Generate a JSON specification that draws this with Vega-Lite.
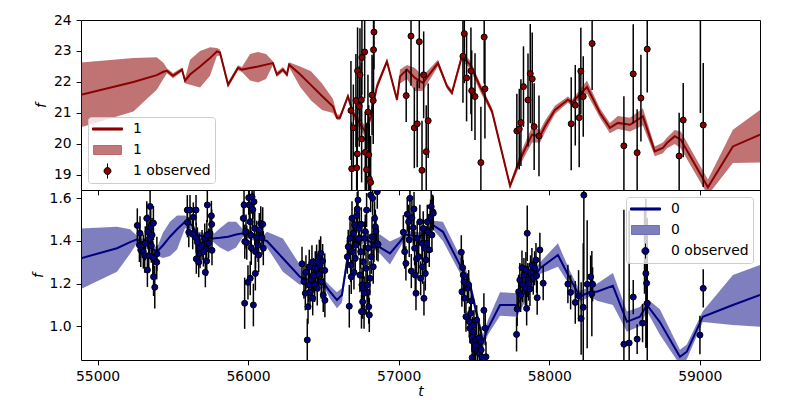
{
"$schema": "https://vega.github.io/schema/vega-lite/v6.json",
"background": "white",
"padding": {"left": 30, "top": 12, "right": 30, "bottom": 20},
"bounds": "flush",
"spacing": 0,
"datasets": {
"model1": [
{"t":54890,"m":21.59,"lo":20.54,"hi":22.63},{"t":55238,"m":22.0,"lo":21.05,"hi":22.77},{"t":55393,"m":22.22,"lo":21.75,"hi":22.8},{"t":55437,"m":22.33,"lo":22.1,"hi":22.62},{"t":55461,"m":22.36,"lo":22.28,"hi":22.44},{"t":55501,"m":22.2,"lo":22.12,"hi":22.28},{"t":55561,"m":22.4,"lo":22.33,"hi":22.47},{"t":55581,"m":22.04,"lo":21.96,"hi":22.12},{"t":55614,"m":22.24,"lo":21.91,"hi":22.72},{"t":55681,"m":22.5,"lo":21.82,"hi":23.0},{"t":55747,"m":22.77,"lo":22.2,"hi":23.12},{"t":55793,"m":22.99,"lo":22.85,"hi":23.1},{"t":55813,"m":22.95,"lo":22.85,"hi":23.05},{"t":55867,"m":21.91,"lo":21.82,"hi":22.0},{"t":55933,"m":22.46,"lo":22.38,"hi":22.54},{"t":55959,"m":22.4,"lo":22.32,"hi":22.48},{"t":56013,"m":22.45,"lo":22.05,"hi":22.9},{"t":56066,"m":22.5,"lo":21.98,"hi":22.97},{"t":56119,"m":22.56,"lo":22.1,"hi":22.9},{"t":56165,"m":22.61,"lo":22.55,"hi":22.67},{"t":56191,"m":22.24,"lo":22.16,"hi":22.32},{"t":56231,"m":22.4,"lo":22.32,"hi":22.48},{"t":56258,"m":22.24,"lo":22.16,"hi":22.32},{"t":56272,"m":22.56,"lo":22.48,"hi":22.64},{"t":56345,"m":22.25,"lo":21.85,"hi":22.5},{"t":56418,"m":21.9,"lo":21.4,"hi":22.35},{"t":56491,"m":21.55,"lo":21.1,"hi":21.95},{"t":56564,"m":21.21,"lo":21.0,"hi":21.45},{"t":56590,"m":20.85,"lo":20.78,"hi":20.95},{"t":56610,"m":20.85,"lo":20.77,"hi":20.95},{"t":56663,"m":21.54,"lo":21.45,"hi":21.62},{"t":56697,"m":21.0,"lo":20.85,"hi":21.1},{"t":56776,"m":20.41,"lo":20.25,"hi":20.6},{"t":56809,"m":20.78,"lo":20.62,"hi":20.92},{"t":56856,"m":21.86,"lo":21.75,"hi":21.98},{"t":56922,"m":22.66,"lo":22.58,"hi":22.74},{"t":56989,"m":21.43,"lo":21.35,"hi":21.52},{"t":57009,"m":22.18,"lo":21.95,"hi":22.4},{"t":57055,"m":22.4,"lo":22.1,"hi":22.55},{"t":57108,"m":22.13,"lo":21.7,"hi":22.45},{"t":57161,"m":21.97,"lo":21.72,"hi":22.2},{"t":57261,"m":22.61,"lo":22.5,"hi":22.72},{"t":57321,"m":21.86,"lo":21.78,"hi":21.95},{"t":57354,"m":21.65,"lo":21.56,"hi":21.74},{"t":57420,"m":22.83,"lo":22.72,"hi":22.95},{"t":57474,"m":22.56,"lo":22.42,"hi":22.7},{"t":57540,"m":21.86,"lo":21.7,"hi":21.98},{"t":57620,"m":21.05,"lo":20.95,"hi":21.15},{"t":57740,"m":18.65,"lo":18.56,"hi":18.74},{"t":57806,"m":19.5,"lo":19.32,"hi":19.68},{"t":57886,"m":20.3,"lo":20.05,"hi":20.55},{"t":57939,"m":20.25,"lo":20.05,"hi":20.45},{"t":57972,"m":20.57,"lo":20.38,"hi":20.75},{"t":58038,"m":21.1,"lo":20.97,"hi":21.23},{"t":58124,"m":21.43,"lo":21.33,"hi":21.53},{"t":58151,"m":21.33,"lo":21.23,"hi":21.43},{"t":58251,"m":21.84,"lo":21.62,"hi":22.05},{"t":58337,"m":21.0,"lo":20.85,"hi":21.15},{"t":58403,"m":20.52,"lo":20.35,"hi":20.68},{"t":58456,"m":20.68,"lo":20.48,"hi":20.9},{"t":58536,"m":20.62,"lo":20.4,"hi":20.85},{"t":58622,"m":20.89,"lo":20.6,"hi":21.15},{"t":58701,"m":19.76,"lo":19.6,"hi":19.92},{"t":58755,"m":19.87,"lo":19.7,"hi":20.05},{"t":58781,"m":20.03,"lo":19.85,"hi":20.2},{"t":58834,"m":20.25,"lo":20.0,"hi":20.45},{"t":58874,"m":20.14,"lo":19.85,"hi":20.4},{"t":59054,"m":18.6,"lo":18.35,"hi":18.85},{"t":59220,"m":19.92,"lo":19.39,"hi":20.46},{"t":59400,"m":20.3,"lo":19.4,"hi":21.1}
],
"obs1": [
{"t":56683,"f":21.08,"e":1.6},{"t":56688,"f":19.2,"e":1.5},{"t":56699,"f":20.52,"e":1.4},{"t":56721,"f":19.23,"e":1.6},{"t":56725,"f":19.68,"e":1.5},{"t":56727,"f":22.36,"e":1.4},{"t":56716,"f":21.4,"e":1.5},{"t":56738,"f":21.21,"e":1.3},{"t":56743,"f":22.23,"e":1.5},{"t":56752,"f":21.42,"e":1.2},{"t":56754,"f":20.16,"e":1.4},{"t":56756,"f":22.79,"e":1.2},{"t":56774,"f":22.97,"e":1.5},{"t":56778,"f":19.73,"e":1.3},{"t":56787,"f":19.17,"e":1.5},{"t":56796,"f":21.03,"e":1.2},{"t":56801,"f":19.65,"e":1.6},{"t":56805,"f":18.87,"e":1.8},{"t":56814,"f":18.76,"e":1.5},{"t":56823,"f":21.58,"e":1.3},{"t":56831,"f":21.4,"e":1.4},{"t":56833,"f":23.04,"e":1.5},{"t":56836,"f":23.61,"e":1.2},{"t":57050,"f":21.56,"e":0.85},{"t":57082,"f":23.48,"e":1.6},{"t":57104,"f":20.52,"e":1.3},{"t":57123,"f":20.65,"e":1.4},{"t":57137,"f":23.3,"e":1.5},{"t":57155,"f":19.15,"e":1.6},{"t":57166,"f":22.23,"e":1.4},{"t":57183,"f":19.75,"e":1.5},{"t":57196,"f":20.75,"e":1.2},{"t":57427,"f":22.83,"e":1.5},{"t":57436,"f":23.56,"e":1.6},{"t":57451,"f":22.13,"e":1.4},{"t":57480,"f":22.36,"e":1.4},{"t":57485,"f":21.72,"e":1.3},{"t":57507,"f":21.53,"e":1.4},{"t":57568,"f":23.45,"e":1.5},{"t":57573,"f":21.78,"e":1.6},{"t":57546,"f":19.4,"e":1.8},{"t":57785,"f":20.42,"e":1.2},{"t":57801,"f":20.48,"e":1.3},{"t":57812,"f":20.69,"e":1.4},{"t":57829,"f":21.85,"e":1.3},{"t":57859,"f":21.42,"e":1.5},{"t":57874,"f":22.27,"e":1.6},{"t":57887,"f":22.1,"e":1.5},{"t":57900,"f":20.56,"e":1.4},{"t":57932,"f":20.26,"e":1.3},{"t":58146,"f":20.65,"e":1.5},{"t":58173,"f":21.25,"e":1.3},{"t":58199,"f":20.85,"e":1.6},{"t":58210,"f":22.35,"e":1.4},{"t":58226,"f":21.53,"e":1.3},{"t":58285,"f":23.24,"e":1.5},{"t":58496,"f":19.94,"e":1.6},{"t":58558,"f":22.26,"e":1.6},{"t":58584,"f":19.72,"e":1.4},{"t":58609,"f":21.48,"e":1.4},{"t":58651,"f":23.06,"e":1.4},{"t":58863,"f":19.61,"e":1.4},{"t":58890,"f":20.77,"e":1.2},{"t":59023,"f":20.61,"e":2.0},{"t":59004,"f":25.0,"e":4.0}
],
"model0": [
{"t":54890,"m":1.319,"lo":1.175,"hi":1.459},{"t":55129,"m":1.366,"lo":1.256,"hi":1.467},{"t":55216,"m":1.395,"lo":1.34,"hi":1.455},{"t":55262,"m":1.408,"lo":1.39,"hi":1.425},{"t":55395,"m":1.35,"lo":1.33,"hi":1.37},{"t":55435,"m":1.38,"lo":1.32,"hi":1.44},{"t":55481,"m":1.42,"lo":1.33,"hi":1.49},{"t":55528,"m":1.455,"lo":1.36,"hi":1.52},{"t":55581,"m":1.49,"lo":1.46,"hi":1.52},{"t":55627,"m":1.475,"lo":1.455,"hi":1.495},{"t":55661,"m":1.428,"lo":1.41,"hi":1.445},{"t":55767,"m":1.412,"lo":1.395,"hi":1.43},{"t":55813,"m":1.415,"lo":1.37,"hi":1.46},{"t":55867,"m":1.42,"lo":1.35,"hi":1.49},{"t":55920,"m":1.43,"lo":1.37,"hi":1.49},{"t":55966,"m":1.436,"lo":1.42,"hi":1.455},{"t":56099,"m":1.405,"lo":1.385,"hi":1.425},{"t":56125,"m":1.4,"lo":1.37,"hi":1.443},{"t":56231,"m":1.319,"lo":1.256,"hi":1.412},{"t":56345,"m":1.232,"lo":1.194,"hi":1.287},{"t":56365,"m":1.225,"lo":1.205,"hi":1.245},{"t":56511,"m":1.194,"lo":1.175,"hi":1.215},{"t":56544,"m":1.162,"lo":1.13,"hi":1.19},{"t":56590,"m":1.123,"lo":1.085,"hi":1.16},{"t":56623,"m":1.147,"lo":1.11,"hi":1.18},{"t":56663,"m":1.334,"lo":1.31,"hi":1.36},{"t":56697,"m":1.389,"lo":1.37,"hi":1.41},{"t":56776,"m":1.41,"lo":1.39,"hi":1.43},{"t":56876,"m":1.37,"lo":1.34,"hi":1.43},{"t":56942,"m":1.342,"lo":1.29,"hi":1.397},{"t":57009,"m":1.397,"lo":1.37,"hi":1.42},{"t":57042,"m":1.43,"lo":1.41,"hi":1.45},{"t":57141,"m":1.42,"lo":1.4,"hi":1.44},{"t":57227,"m":1.475,"lo":1.455,"hi":1.495},{"t":57294,"m":1.443,"lo":1.4,"hi":1.49},{"t":57407,"m":1.287,"lo":1.25,"hi":1.33},{"t":57474,"m":1.194,"lo":1.17,"hi":1.22},{"t":57560,"m":0.928,"lo":0.9,"hi":0.96},{"t":57593,"m":0.99,"lo":0.96,"hi":1.03},{"t":57673,"m":1.1,"lo":1.05,"hi":1.16},{"t":57786,"m":1.1,"lo":1.045,"hi":1.155},{"t":57939,"m":1.272,"lo":1.245,"hi":1.3},{"t":58058,"m":1.334,"lo":1.279,"hi":1.389},{"t":58137,"m":1.225,"lo":1.19,"hi":1.26},{"t":58204,"m":1.139,"lo":1.115,"hi":1.165},{"t":58270,"m":1.162,"lo":1.14,"hi":1.185},{"t":58317,"m":1.162,"lo":1.12,"hi":1.2},{"t":58423,"m":1.19,"lo":1.1,"hi":1.25},{"t":58516,"m":1.021,"lo":0.975,"hi":1.069},{"t":58602,"m":1.045,"lo":1.0,"hi":1.09},{"t":58649,"m":1.1,"lo":1.07,"hi":1.13},{"t":58735,"m":1.02,"lo":0.96,"hi":1.08},{"t":58868,"m":0.857,"lo":0.82,"hi":0.89},{"t":58914,"m":0.881,"lo":0.845,"hi":0.915},{"t":59020,"m":1.045,"lo":1.02,"hi":1.07},{"t":59220,"m":1.1,"lo":1.006,"hi":1.24},{"t":59400,"m":1.147,"lo":0.998,"hi":1.287}
],
"obs0": [
{"t":55264,"f":1.473,"e":0.08},{"t":55282,"f":1.436,"e":0.08},{"t":55278,"f":1.381,"e":0.08},{"t":55287,"f":1.358,"e":0.08},{"t":55304,"f":1.35,"e":0.08},{"t":55313,"f":1.331,"e":0.08},{"t":55327,"f":1.506,"e":0.08},{"t":55331,"f":1.264,"e":0.08},{"t":55335,"f":1.444,"e":0.08},{"t":55344,"f":1.412,"e":0.08},{"t":55349,"f":1.562,"e":0.08},{"t":55353,"f":1.467,"e":0.08},{"t":55357,"f":1.378,"e":0.08},{"t":55362,"f":1.428,"e":0.08},{"t":55367,"f":1.322,"e":0.08},{"t":55371,"f":1.484,"e":0.08},{"t":55372,"f":1.232,"e":0.09},{"t":55380,"f":1.183,"e":0.1},{"t":55393,"f":1.3,"e":0.08},{"t":55394,"f":1.34,"e":0.08},{"t":55340,"f":1.331,"e":0.08},{"t":55317,"f":1.389,"e":0.08},
{"t":55596,"f":1.545,"e":0.07},{"t":55614,"f":1.545,"e":0.07},{"t":55636,"f":1.511,"e":0.07},{"t":55654,"f":1.545,"e":0.07},{"t":55597,"f":1.487,"e":0.07},{"t":55606,"f":1.441,"e":0.07},{"t":55632,"f":1.431,"e":0.07},{"t":55655,"f":1.415,"e":0.07},{"t":55663,"f":1.394,"e":0.07},{"t":55676,"f":1.366,"e":0.07},{"t":55656,"f":1.316,"e":0.07},{"t":55672,"f":1.3,"e":0.07},{"t":55681,"f":1.342,"e":0.07},{"t":55694,"f":1.381,"e":0.07},{"t":55712,"f":1.412,"e":0.07},{"t":55716,"f":1.253,"e":0.07},{"t":55720,"f":1.362,"e":0.07},{"t":55725,"f":1.306,"e":0.07},{"t":55729,"f":1.569,"e":0.08},{"t":55738,"f":1.389,"e":0.07},{"t":55747,"f":1.436,"e":0.07},{"t":55756,"f":1.518,"e":0.07},{"t":55758,"f":1.478,"e":0.07},{"t":55760,"f":1.356,"e":0.07},{"t":55726,"f":1.428,"e":0.07},{"t":55703,"f":1.35,"e":0.07},
{"t":55968,"f":1.506,"e":0.08},{"t":55973,"f":1.569,"e":0.08},{"t":55977,"f":1.108,"e":0.12},{"t":55986,"f":1.444,"e":0.08},{"t":55991,"f":1.392,"e":0.08},{"t":56004,"f":1.603,"e":0.08},{"t":55999,"f":1.206,"e":0.08},{"t":56008,"f":1.569,"e":0.08},{"t":56013,"f":1.49,"e":0.08},{"t":56017,"f":1.428,"e":0.08},{"t":56021,"f":1.368,"e":0.08},{"t":56014,"f":1.225,"e":0.08},{"t":56026,"f":1.607,"e":0.08},{"t":56031,"f":1.547,"e":0.08},{"t":56035,"f":1.1,"e":0.1},{"t":56039,"f":1.584,"e":0.08},{"t":56044,"f":1.459,"e":0.08},{"t":56048,"f":1.248,"e":0.08},{"t":56049,"f":1.35,"e":0.08},{"t":56057,"f":1.415,"e":0.08},{"t":56066,"f":1.381,"e":0.08},{"t":56070,"f":1.334,"e":0.08},{"t":56074,"f":1.451,"e":0.08},{"t":56084,"f":1.483,"e":0.08},{"t":56092,"f":1.415,"e":0.08},{"t":56097,"f":1.478,"e":0.08},{"t":56101,"f":1.366,"e":0.08},{"t":55978,"f":1.397,"e":0.08},
{"t":56358,"f":1.293,"e":0.08},{"t":56371,"f":1.209,"e":0.08},{"t":56380,"f":1.155,"e":0.08},{"t":56384,"f":1.253,"e":0.08},{"t":56393,"f":0.936,"e":0.1},{"t":56398,"f":1.092,"e":0.08},{"t":56402,"f":1.194,"e":0.08},{"t":56406,"f":1.279,"e":0.08},{"t":56411,"f":1.159,"e":0.08},{"t":56420,"f":1.217,"e":0.08},{"t":56424,"f":1.3,"e":0.08},{"t":56429,"f":1.131,"e":0.08},{"t":56433,"f":1.24,"e":0.08},{"t":56442,"f":1.194,"e":0.08},{"t":56446,"f":1.272,"e":0.08},{"t":56455,"f":1.303,"e":0.08},{"t":56459,"f":1.178,"e":0.08},{"t":56469,"f":1.244,"e":0.08},{"t":56473,"f":1.326,"e":0.08},{"t":56477,"f":1.287,"e":0.08},{"t":56482,"f":1.342,"e":0.08},{"t":56486,"f":1.209,"e":0.08},{"t":56495,"f":1.306,"e":0.08},{"t":56499,"f":1.147,"e":0.08},{"t":56509,"f":1.262,"e":0.08},{"t":56510,"f":1.122,"e":0.08},
{"t":56659,"f":1.326,"e":0.08},{"t":56665,"f":1.373,"e":0.08},{"t":56672,"f":1.094,"e":0.1},{"t":56677,"f":1.412,"e":0.08},{"t":56681,"f":1.287,"e":0.08},{"t":56685,"f":1.232,"e":0.08},{"t":56690,"f":1.506,"e":0.08},{"t":56694,"f":1.35,"e":0.08},{"t":56699,"f":1.436,"e":0.08},{"t":56703,"f":1.253,"e":0.08},{"t":56708,"f":1.475,"e":0.08},{"t":56712,"f":1.319,"e":0.08},{"t":56716,"f":1.381,"e":0.08},{"t":56721,"f":1.518,"e":0.08},{"t":56725,"f":1.55,"e":0.08},{"t":56730,"f":1.592,"e":0.08},{"t":56734,"f":1.412,"e":0.08},{"t":56738,"f":1.459,"e":0.08},{"t":56743,"f":1.24,"e":0.08},{"t":56748,"f":1.35,"e":0.08},{"t":56752,"f":1.478,"e":0.08},{"t":56756,"f":1.194,"e":0.08},{"t":56761,"f":1.115,"e":0.08},{"t":56765,"f":1.303,"e":0.08},{"t":56770,"f":1.069,"e":0.08},{"t":56774,"f":1.412,"e":0.08},{"t":56778,"f":1.444,"e":0.08},{"t":56783,"f":1.272,"e":0.08},{"t":56787,"f":1.545,"e":0.08},{"t":56791,"f":1.162,"e":0.08},{"t":56796,"f":1.366,"e":0.08},{"t":56801,"f":1.092,"e":0.08},{"t":56805,"f":1.053,"e":0.08},{"t":56809,"f":1.225,"e":0.08},{"t":56814,"f":1.615,"e":0.08},{"t":56818,"f":1.326,"e":0.08},{"t":56823,"f":1.42,"e":0.08},{"t":56827,"f":1.6,"e":0.08},{"t":56831,"f":1.279,"e":0.08},{"t":56836,"f":1.381,"e":0.08},{"t":56840,"f":1.506,"e":0.08},{"t":56845,"f":1.467,"e":0.08},{"t":56849,"f":1.444,"e":0.08},{"t":56854,"f":1.389,"e":0.08},{"t":56858,"f":1.631,"e":0.08},{"t":56863,"f":1.384,"e":0.08},{"t":56762,"f":1.178,"e":0.08},{"t":56771,"f":1.155,"e":0.08},{"t":56753,"f":1.069,"e":0.08},{"t":56792,"f":1.194,"e":0.08},
{"t":57031,"f":1.441,"e":0.08},{"t":57040,"f":1.35,"e":0.08},{"t":57048,"f":1.295,"e":0.08},{"t":57057,"f":1.525,"e":0.08},{"t":57066,"f":1.49,"e":0.08},{"t":57070,"f":1.405,"e":0.08},{"t":57075,"f":1.6,"e":0.08},{"t":57084,"f":1.259,"e":0.08},{"t":57088,"f":1.509,"e":0.08},{"t":57097,"f":1.462,"e":0.08},{"t":57102,"f":1.55,"e":0.08},{"t":57106,"f":1.366,"e":0.08},{"t":57110,"f":1.24,"e":0.08},{"t":57115,"f":1.155,"e":0.08},{"t":57119,"f":1.316,"e":0.08},{"t":57123,"f":1.412,"e":0.08},{"t":57133,"f":1.326,"e":0.08},{"t":57141,"f":1.49,"e":0.08},{"t":57146,"f":1.225,"e":0.08},{"t":57155,"f":1.389,"e":0.08},{"t":57159,"f":1.279,"e":0.08},{"t":57163,"f":1.459,"e":0.08},{"t":57168,"f":1.131,"e":0.08},{"t":57173,"f":1.366,"e":0.08},{"t":57177,"f":1.248,"e":0.08},{"t":57181,"f":1.311,"e":0.08},{"t":57186,"f":1.389,"e":0.08},{"t":57190,"f":1.49,"e":0.08},{"t":57195,"f":1.444,"e":0.08},{"t":57203,"f":1.358,"e":0.08},{"t":57212,"f":1.514,"e":0.08},{"t":57216,"f":1.561,"e":0.08},{"t":57221,"f":1.428,"e":0.08},{"t":57226,"f":1.537,"e":0.08},{"t":57230,"f":1.53,"e":0.08},
{"t":57416,"f":1.347,"e":0.08},{"t":57425,"f":1.275,"e":0.07},{"t":57429,"f":1.24,"e":0.07},{"t":57434,"f":1.209,"e":0.07},{"t":57420,"f":1.162,"e":0.07},{"t":57438,"f":1.131,"e":0.07},{"t":57447,"f":1.045,"e":0.07},{"t":57456,"f":1.178,"e":0.07},{"t":57465,"f":1.194,"e":0.07},{"t":57469,"f":1.022,"e":0.07},{"t":57473,"f":0.991,"e":0.07},{"t":57478,"f":1.061,"e":0.07},{"t":57482,"f":1.119,"e":0.07},{"t":57487,"f":0.951,"e":0.07},{"t":57491,"f":0.975,"e":0.07},{"t":57495,"f":0.928,"e":0.07},{"t":57500,"f":1.006,"e":0.07},{"t":57505,"f":0.897,"e":0.07},{"t":57509,"f":0.912,"e":0.07},{"t":57513,"f":0.936,"e":0.07},{"t":57518,"f":1.029,"e":0.07},{"t":57522,"f":0.881,"e":0.07},{"t":57531,"f":0.944,"e":0.07},{"t":57535,"f":0.873,"e":0.07},{"t":57540,"f":0.897,"e":0.07},{"t":57548,"f":0.889,"e":0.07},{"t":57553,"f":0.857,"e":0.07},{"t":57488,"f":0.853,"e":0.07},{"t":57566,"f":1.075,"e":0.08},{"t":57575,"f":0.991,"e":0.08},{"t":57580,"f":0.857,"e":0.07},{"t":57545,"f":0.928,"e":0.07},
{"t":57783,"f":0.962,"e":0.08},{"t":57787,"f":1.081,"e":0.08},{"t":57797,"f":1.162,"e":0.08},{"t":57805,"f":1.217,"e":0.08},{"t":57810,"f":1.147,"e":0.08},{"t":57819,"f":1.275,"e":0.08},{"t":57823,"f":1.194,"e":0.08},{"t":57832,"f":1.24,"e":0.08},{"t":57841,"f":1.178,"e":0.08},{"t":57845,"f":1.268,"e":0.08},{"t":57850,"f":1.084,"e":0.08},{"t":57854,"f":1.436,"e":0.13},{"t":57858,"f":1.217,"e":0.08},{"t":57863,"f":1.2,"e":0.08},{"t":57872,"f":1.175,"e":0.08},{"t":57876,"f":1.253,"e":0.08},{"t":57885,"f":1.287,"e":0.08},{"t":57894,"f":1.228,"e":0.08},{"t":57903,"f":1.272,"e":0.08},{"t":57912,"f":1.311,"e":0.08},{"t":57916,"f":1.237,"e":0.08},{"t":57920,"f":1.134,"e":0.08},{"t":57938,"f":1.358,"e":0.08},{"t":57960,"f":1.202,"e":0.08},
{"t":58124,"f":1.198,"e":0.09},{"t":58142,"f":1.159,"e":0.08},{"t":58173,"f":1.112,"e":0.1},{"t":58195,"f":1.143,"e":0.12},{"t":58212,"f":1.037,"e":0.17},{"t":58226,"f":1.089,"e":0.3},{"t":58230,"f":1.615,"e":0.4},{"t":58252,"f":1.197,"e":0.3},{"t":58275,"f":1.232,"e":0.1},{"t":58283,"f":1.153,"e":0.2},{"t":58288,"f":1.197,"e":0.08},
{"t":58496,"f":0.916,"e":0.63},{"t":58531,"f":0.922,"e":0.62},{"t":58558,"f":1.137,"e":0.08},{"t":58584,"f":0.94,"e":0.07},{"t":58620,"f":1.015,"e":0.09},{"t":58633,"f":1.353,"e":0.2},{"t":58642,"f":1.248,"e":0.35},{"t":58647,"f":1.202,"e":0.3},{"t":58651,"f":1.108,"e":0.4},{"t":59001,"f":0.959,"e":0.09},{"t":59023,"f":1.178,"e":0.09}
],
"leg1": [{"leg":"a"},{"leg":"b"},{"leg":"c"}],
"leg0": [{"leg":"a"},{"leg":"b"},{"leg":"c"}]
},
"vconcat": [
{
"width": 679, "height": 170,
"layer": [
{"data":{"name":"model1"},"mark":{"type":"area","color":"#8b0000","opacity":0.55,"clip":true},
 "encoding":{
  "x":{"field":"t","type":"quantitative","scale":{"domain":[54890,59400],"nice":false,"zero":false},"axis":{"values":[55000,56000,57000,58000,59000],"labels":false,"title":null}},
  "y":{"field":"lo","type":"quantitative","scale":{"domain":[18.515,24],"nice":false,"zero":false},"axis":{"values":[19,20,21,22,23,24],"tickCount":6,"format":"d","title":"f","titleX":-33,"titleY":85}},
  "y2":{"field":"hi"}}},
{"data":{"name":"model1"},"mark":{"type":"line","color":"#8b0000","strokeWidth":2,"clip":true},
 "encoding":{"x":{"field":"t","type":"quantitative"},"y":{"field":"m","type":"quantitative","axis":{"values":[19,20,21,22,23,24],"tickCount":6,"format":"d","title":"f","titleX":-33,"titleY":85}}}},
{"data":{"name":"obs1"},"mark":{"type":"errorbar","color":"black","thickness":1.5,"clip":true},
 "encoding":{"x":{"field":"t","type":"quantitative"},"y":{"field":"f","type":"quantitative","axis":{"values":[19,20,21,22,23,24],"tickCount":6,"format":"d","title":"f","titleX":-33,"titleY":85}},"yError":{"field":"e"}}},
{"data":{"name":"obs1"},"mark":{"type":"point","filled":true,"fill":"#8b0000","stroke":"black","strokeWidth":1,"size":36,"opacity":1,"clip":true},
 "encoding":{"x":{"field":"t","type":"quantitative"},"y":{"field":"f","type":"quantitative","axis":{"values":[19,20,21,22,23,24],"tickCount":6,"format":"d","title":"f","titleX":-33,"titleY":85}}}},
{"data":{"name":"leg1"},"mark":{"type":"point","filled":true,"opacity":0},
 "encoding":{
  "fill":{"field":"leg","type":"nominal","scale":{"domain":["a","b","c"],"range":["#8b0000","#c27878","#8b0000"]},"legend":{"orient":"bottom-left","labelExpr":"datum.value == 'c' ? '1 observed' : '1'"}},
  "stroke":{"field":"leg","type":"nominal","scale":{"domain":["a","b","c"],"range":["#8b0000","#b86a6a","#000000"]},"legend":{"orient":"bottom-left","labelExpr":"datum.value == 'c' ? '1 observed' : '1'"}},
  "shape":{"field":"leg","type":"nominal","scale":{"domain":["a","b","c"],"range":["M-1,-0.07H1V0.07H-1Z","M-0.93,-0.3H0.93V0.3H-0.93Z","M-0.23,0A0.23,0.23,0,1,0,0.23,0A0.23,0.23,0,1,0,-0.23,0Z M0,-0.5V-0.23 M0,0.23V0.5"]},"legend":{"orient":"bottom-left","labelExpr":"datum.value == 'c' ? '1 observed' : '1'"}}
 }}
]
},
{
"width": 679, "height": 170,
"layer": [
{"data":{"name":"model0"},"mark":{"type":"area","color":"#000080","opacity":0.5,"clip":true},
 "encoding":{
  "x":{"field":"t","type":"quantitative","scale":{"domain":[54890,59400],"nice":false,"zero":false},"axis":{"values":[55000,56000,57000,58000,59000],"format":"d","title":"t","titlePadding":1}},
  "y":{"field":"lo","type":"quantitative","scale":{"domain":[0.842,1.639],"nice":false,"zero":false},"axis":{"values":[1.0,1.2,1.4,1.6],"format":".1f","title":"f","titleX":-36,"titleY":85}},
  "y2":{"field":"hi"}}},
{"data":{"name":"model0"},"mark":{"type":"line","color":"#000080","strokeWidth":2,"clip":true},
 "encoding":{"x":{"field":"t","type":"quantitative","title":"t"},"y":{"field":"m","type":"quantitative","title":"f"}}},
{"data":{"name":"obs0"},"mark":{"type":"errorbar","color":"black","thickness":1.5,"clip":true},
 "encoding":{"x":{"field":"t","type":"quantitative","title":"t"},"y":{"field":"f","type":"quantitative","title":"f"},"yError":{"field":"e"}}},
{"data":{"name":"obs0"},"mark":{"type":"point","filled":true,"fill":"#000080","stroke":"black","strokeWidth":1,"size":36,"opacity":1,"clip":true},
 "encoding":{"x":{"field":"t","type":"quantitative","title":"t"},"y":{"field":"f","type":"quantitative","title":"f"}}},
{"data":{"name":"leg0"},"mark":{"type":"point","filled":true,"opacity":0},
 "encoding":{
  "fill":{"field":"leg","type":"nominal","scale":{"domain":["a","b","c"],"range":["#000080","#7f7fbf","#000080"]},"legend":{"orient":"top-right","labelExpr":"datum.value == 'c' ? '0 observed' : '0'"}},
  "stroke":{"field":"leg","type":"nominal","scale":{"domain":["a","b","c"],"range":["#000080","#6f6fb5","#000000"]},"legend":{"orient":"top-right","labelExpr":"datum.value == 'c' ? '0 observed' : '0'"}},
  "shape":{"field":"leg","type":"nominal","scale":{"domain":["a","b","c"],"range":["M-1,-0.07H1V0.07H-1Z","M-0.93,-0.3H0.93V0.3H-0.93Z","M-0.23,0A0.23,0.23,0,1,0,0.23,0A0.23,0.23,0,1,0,-0.23,0Z M0,-0.5V-0.23 M0,0.23V0.5"]},"legend":{"orient":"top-right","labelExpr":"datum.value == 'c' ? '0 observed' : '0'"}}
 }}
]
}
],
"resolve": {
 "scale": {"x":"independent","y":"independent","fill":"independent","stroke":"independent","shape":"independent"},
 "legend": {"fill":"independent","stroke":"independent","shape":"independent"}
},
"config": {
 "font": "DejaVu Sans",
 "view": {"stroke": "black", "strokeWidth": 1},
 "axis": {"labelFont":"DejaVu Sans","labelFontSize":13.9,"labelColor":"black","labelOverlap":false,"labelBound":false,"labelFlush":false,"tickColor":"black","tickSize":4.9,"tickWidth":1,"labelPadding":4.9,"domain":false,"grid":false,"titleFont":"DejaVu Sans","titleFontSize":13.9,"titleFontStyle":"italic","titleFontWeight":"normal","titleColor":"black"},
 "legend": {"title":null,"offset":7,"symbolSize":900,"clipHeight":16,"rowPadding":5,"padding":4,"labelOffset":10,"labelFont":"DejaVu Sans","labelFontSize":13.9,"labelColor":"black","fillColor":"rgba(255,255,255,0.8)","strokeColor":"#cccccc","cornerRadius":3,"symbolOpacity":1,"symbolStrokeWidth":1}
}
}
